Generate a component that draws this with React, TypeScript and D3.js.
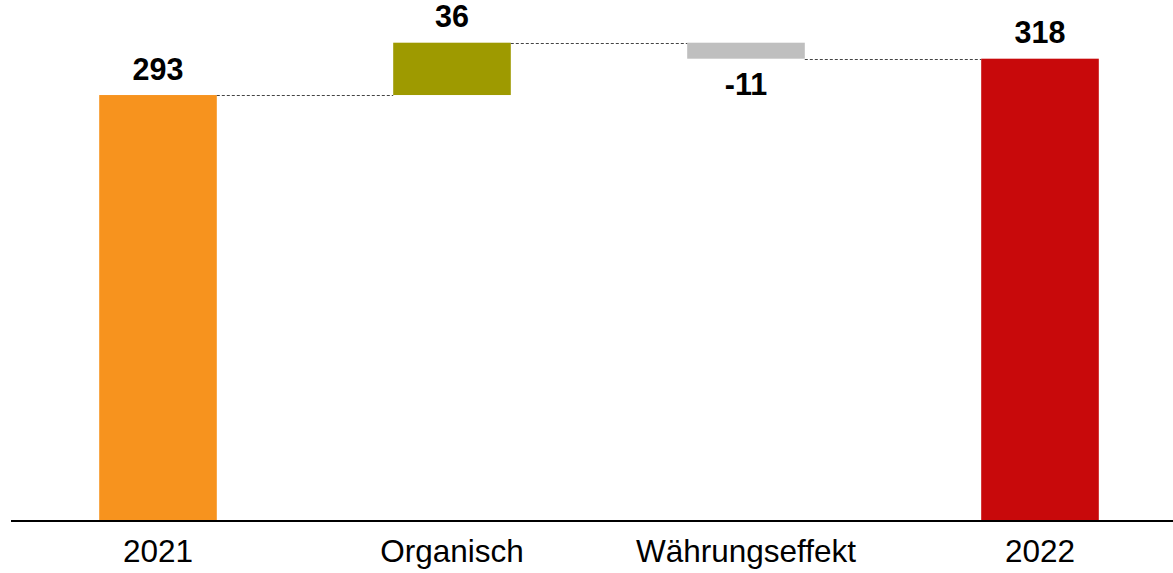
import React from "react";
import * as d3 from "d3";

const categories = ["2021", "Organisch", "Währungseffekt", "2022"];
const deltas = [293, 36, -11, 318];
const kinds = ["total", "delta", "delta", "total"];
const labels = ["293", "36", "-11", "318"];
const colors = ["#F7931E", "#9E9A00", "#BFBFBF", "#C8090B"];

const W = 1173;
const H = 573;

export default function App() {
  let running = 0;
  const segs = categories.map((c, i) => {
    let y0: number, y1: number;
    if (kinds[i] === "total") {
      y0 = 0;
      y1 = deltas[i];
      running = deltas[i];
    } else {
      y0 = running;
      y1 = running + deltas[i];
      running = y1;
    }
    return { c, y0, y1, v: deltas[i], label: labels[i], color: colors[i], end: y1 };
  });

  const x = d3
    .scaleBand<string>()
    .domain(categories)
    .range([11, 1187])
    .paddingInner(0.6)
    .paddingOuter(0.3);
  const y = d3.scaleLinear().domain([0, 329]).range([521, 42.7]);

  const bw = x.bandwidth();

  return (
    <svg
      width={W}
      height={H}
      style={{ position: "absolute", left: 0, top: 0, background: "#fff" }}
      fontFamily="'Liberation Sans', Arial, sans-serif"
    >
      {segs.map((s, i) => {
        const top = y(Math.max(s.y0, s.y1));
        const bot = y(Math.min(s.y0, s.y1));
        return (
          <rect
            key={"b" + i}
            x={x(s.c)!}
            y={top}
            width={bw}
            height={bot - top}
            fill={s.color}
          />
        );
      })}
      {segs.slice(0, -1).map((s, i) => {
        const next = segs[i + 1];
        const yy = Math.round(y(s.end)) + 0.5;
        return (
          <line
            key={"c" + i}
            x1={x(s.c)! + bw}
            x2={x(next.c)!}
            y1={yy}
            y2={yy}
            stroke="#444"
            strokeWidth={1}
            strokeDasharray="3,2"
          />
        );
      })}
      {segs.map((s, i) => {
        const cx = x(s.c)! + bw / 2;
        const above = s.v >= 0;
        const ty = above
          ? y(Math.max(s.y0, s.y1)) - 15.5
          : y(Math.min(s.y0, s.y1)) + 36;
        return (
          <text
            key={"l" + i}
            x={cx}
            y={ty}
            textAnchor="middle"
            fontWeight="bold"
            fontSize={30.5}
            fill="#000"
          >
            {s.label}
          </text>
        );
      })}
      <line x1={11} x2={W} y1={521} y2={521} stroke="#000" strokeWidth={2} />
      {categories.map((c, i) => (
        <text
          key={"a" + i}
          x={x(c)! + bw / 2}
          y={562}
          textAnchor="middle"
          fontSize={31.5}
          fill="#000"
        >
          {c}
        </text>
      ))}
    </svg>
  );
}
